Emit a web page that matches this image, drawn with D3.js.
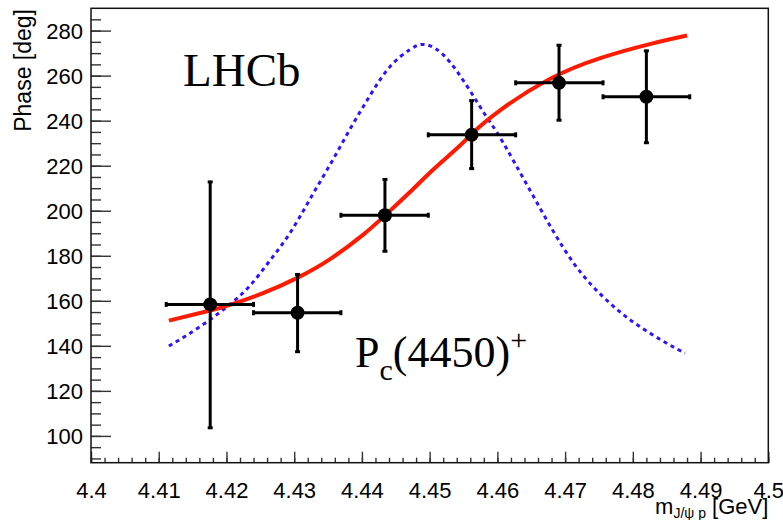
<!DOCTYPE html>
<html>
<head>
<meta charset="utf-8">
<script src="https://cdn.jsdelivr.net/npm/d3@7"></script>
<style>
  body { margin: 0; background: #fff; }
  svg { display: block; }
  .axis text { font-family: "Liberation Sans", Arial, Helvetica, sans-serif; font-size: 22px; fill: #000; }
</style>
</head>
<body>
<div id="chart"></div>
<script>
// Chart size and frame
const WIDTH = 783;
const HEIGHT = 520;
const FRAME = { left: 91, right: 768.3, top: 8.3, bottom: 462.7 };

// Data points: J/psi p mass bins and fitted phase
const binLow = [4.4111, 4.4240, 4.4369, 4.4498, 4.4627, 4.4756];
const binHigh = [4.4240, 4.4369, 4.4498, 4.4627, 4.4756, 4.4884];
const mass = [4.4176, 4.4305, 4.4434, 4.4562, 4.4691, 4.4820];
const phase = [158.4, 154.7, 198.0, 233.7, 256.8, 250.6];
const phaseLow = [103.6, 137.4, 182.0, 218.7, 240.2, 230.2];
const phaseHigh = [212.8, 171.7, 213.9, 248.9, 273.5, 271.0];

// Red curve: Breit-Wigner phase
const fitMass = [4.4115, 4.4176, 4.4205, 4.4254, 4.4306, 4.4353, 4.4402, 4.4434, 4.4471, 4.4505, 4.4540, 4.4562, 4.4604, 4.4678, 4.4752, 4.4825, 4.4880];
const fitPhase = [151.2, 155.7, 158.2, 163.4, 170.4, 178.5, 189.4, 197.9, 208.3, 218.2, 227.6, 234.1, 244.6, 258.6, 267.8, 274.0, 277.8];

// Blue dotted curve: Breit-Wigner magnitude (scaled)
const bwMass = [4.4115, 4.4161, 4.4205, 4.4235, 4.4264, 4.4294, 4.4323, 4.4353, 4.4382, 4.4412, 4.4442, 4.4471, 4.4493, 4.4530, 4.4579, 4.4604, 4.4653, 4.4712, 4.4766, 4.4808, 4.4852, 4.4877];
const bwValue = [139.9, 148.5, 158.4, 166.8, 177.8, 190.2, 205.0, 220.5, 236.0, 251.2, 264.2, 271.6, 273.8, 266.0, 244.0, 232.5, 206.5, 177.0, 159.0, 149.0, 140.8, 136.8];

// Axis ticks
const massTicks = [4.40, 4.41, 4.42, 4.43, 4.44, 4.45, 4.46, 4.47, 4.48, 4.49, 4.50];
const phaseTicks = [100, 120, 140, 160, 180, 200, 220, 240, 260, 280];

const svg = d3.select("#chart").append("svg")
  .attr("width", WIDTH)
  .attr("height", HEIGHT);

const xscale = d3.scaleLinear().domain([4.4, 4.5]).range([FRAME.left, FRAME.right]);
const yscale = d3.scaleLinear().domain([88.1, 289.9]).range([FRAME.bottom, FRAME.top]);

// minor ticks
const xMinor = d3.range(0, 51).map((i) => 4.4 + i * 0.002);
const yMinor = d3.range(90, 290, 5);

svg.append("g")
  .attr("transform", `translate(0, ${FRAME.bottom})`)
  .call(d3.axisBottom(xscale).tickValues(xMinor).tickSize(-5).tickFormat(""))
  .call((g) => g.select(".domain").remove())
  .call((g) => g.selectAll("line").attr("stroke", "#333").attr("stroke-width", 1.4));

svg.append("g")
  .attr("transform", `translate(${FRAME.left}, 0)`)
  .call(d3.axisLeft(yscale).tickValues(yMinor).tickSize(-10).tickFormat(""))
  .call((g) => g.select(".domain").remove())
  .call((g) => g.selectAll("line").attr("stroke", "#333").attr("stroke-width", 1.4));

// major ticks + labels
const xAxis = svg.append("g")
  .attr("class", "axis")
  .attr("transform", `translate(0, ${FRAME.bottom})`)
  .call(d3.axisBottom(xscale).tickValues(massTicks).tickSize(-11).tickPadding(20)
    .tickFormat((d) => String(+d.toFixed(2))));
xAxis.select(".domain").remove();
xAxis.selectAll("line").attr("stroke", "#333").attr("stroke-width", 1.4);

const yAxis = svg.append("g")
  .attr("class", "axis")
  .attr("transform", `translate(${FRAME.left}, 0)`)
  .call(d3.axisLeft(yscale).tickValues(phaseTicks).tickSize(-20).tickPadding(8));
yAxis.select(".domain").remove();
yAxis.selectAll("line").attr("stroke", "#333").attr("stroke-width", 1.4);
yAxis.selectAll("text").attr("dy", "0.36em");

// frame
svg.append("rect")
  .attr("x", FRAME.left)
  .attr("y", FRAME.top)
  .attr("width", FRAME.right - FRAME.left)
  .attr("height", FRAME.bottom - FRAME.top)
  .attr("fill", "none")
  .attr("stroke", "#111")
  .attr("stroke-width", 1.5);

// axis titles
svg.append("text")
  .attr("transform", "translate(31, 9) rotate(-90)")
  .attr("text-anchor", "end")
  .style("font-family", "'Liberation Sans', Arial, sans-serif")
  .style("font-size", "23px")
  .text("Phase [deg]");

const xTitle = svg.append("text")
  .attr("x", FRAME.right)
  .attr("y", 514)
  .attr("text-anchor", "end")
  .style("font-family", "'Liberation Sans', Arial, sans-serif")
  .style("font-size", "22px");
xTitle.append("tspan").text("m");
xTitle.append("tspan").attr("dy", 4).style("font-size", "14px").text("J/\u03C8 p");
xTitle.append("tspan").attr("dy", -4).text(" [GeV]");

// blue dotted curve
const bwLine = d3.line()
  .x((d, i) => xscale(bwMass[i]))
  .y((d) => yscale(d))
  .curve(d3.curveNatural);

svg.append("path")
  .datum(bwValue)
  .attr("d", bwLine)
  .attr("fill", "none")
  .attr("stroke", "#3311ff")
  .attr("stroke-width", 3)
  .attr("stroke-dasharray", "4,4");

// red fit curve
const fitLine = d3.line()
  .x((d, i) => xscale(fitMass[i]))
  .y((d) => yscale(d))
  .curve(d3.curveNatural);

svg.append("path")
  .datum(fitPhase)
  .attr("d", fitLine)
  .attr("fill", "none")
  .attr("stroke", "#ff1a00")
  .attr("stroke-width", 4);

// error bars
const points = svg.append("g").attr("stroke", "#000").attr("stroke-width", 3);
const idx = d3.range(mass.length);

points.selectAll(".hbar").data(idx).enter().append("line")
  .attr("x1", (i) => xscale(binLow[i]))
  .attr("x2", (i) => xscale(binHigh[i]))
  .attr("y1", (i) => yscale(phase[i]))
  .attr("y2", (i) => yscale(phase[i]));

points.selectAll(".vbar").data(idx).enter().append("line")
  .attr("x1", (i) => xscale(mass[i]))
  .attr("x2", (i) => xscale(mass[i]))
  .attr("y1", (i) => yscale(phaseLow[i]))
  .attr("y2", (i) => yscale(phaseHigh[i]));

// end caps
const CAP = 2.5;
idx.forEach((i) => {
  const cx = xscale(mass[i]);
  const cy = yscale(phase[i]);
  [xscale(binLow[i]), xscale(binHigh[i])].forEach((x) => {
    points.append("line").attr("x1", x).attr("x2", x).attr("y1", cy - CAP).attr("y2", cy + CAP);
  });
  [yscale(phaseLow[i]), yscale(phaseHigh[i])].forEach((y) => {
    points.append("line").attr("x1", cx - CAP).attr("x2", cx + CAP).attr("y1", y).attr("y2", y);
  });
});

svg.append("g").selectAll("circle").data(idx).enter().append("circle")
  .attr("cx", (i) => xscale(mass[i]))
  .attr("cy", (i) => yscale(phase[i]))
  .attr("r", 7)
  .attr("fill", "#000");

// labels
svg.append("text")
  .attr("x", 183)
  .attr("y", 86)
  .style("font-family", "'Liberation Serif', 'Times New Roman', serif")
  .style("font-size", "47px")
  .text("LHCb");

const pc = svg.append("text")
  .attr("x", 355)
  .attr("y", 367)
  .style("font-family", "'Liberation Serif', 'Times New Roman', serif")
  .style("font-size", "44px");
pc.append("tspan").text("P");
pc.append("tspan").attr("dy", 13).style("font-size", "30px").text("c");
pc.append("tspan").attr("dy", -13).text("(4450)");
pc.append("tspan").attr("dy", -17).style("font-size", "30px").text("+");
</script>
</body>
</html>
